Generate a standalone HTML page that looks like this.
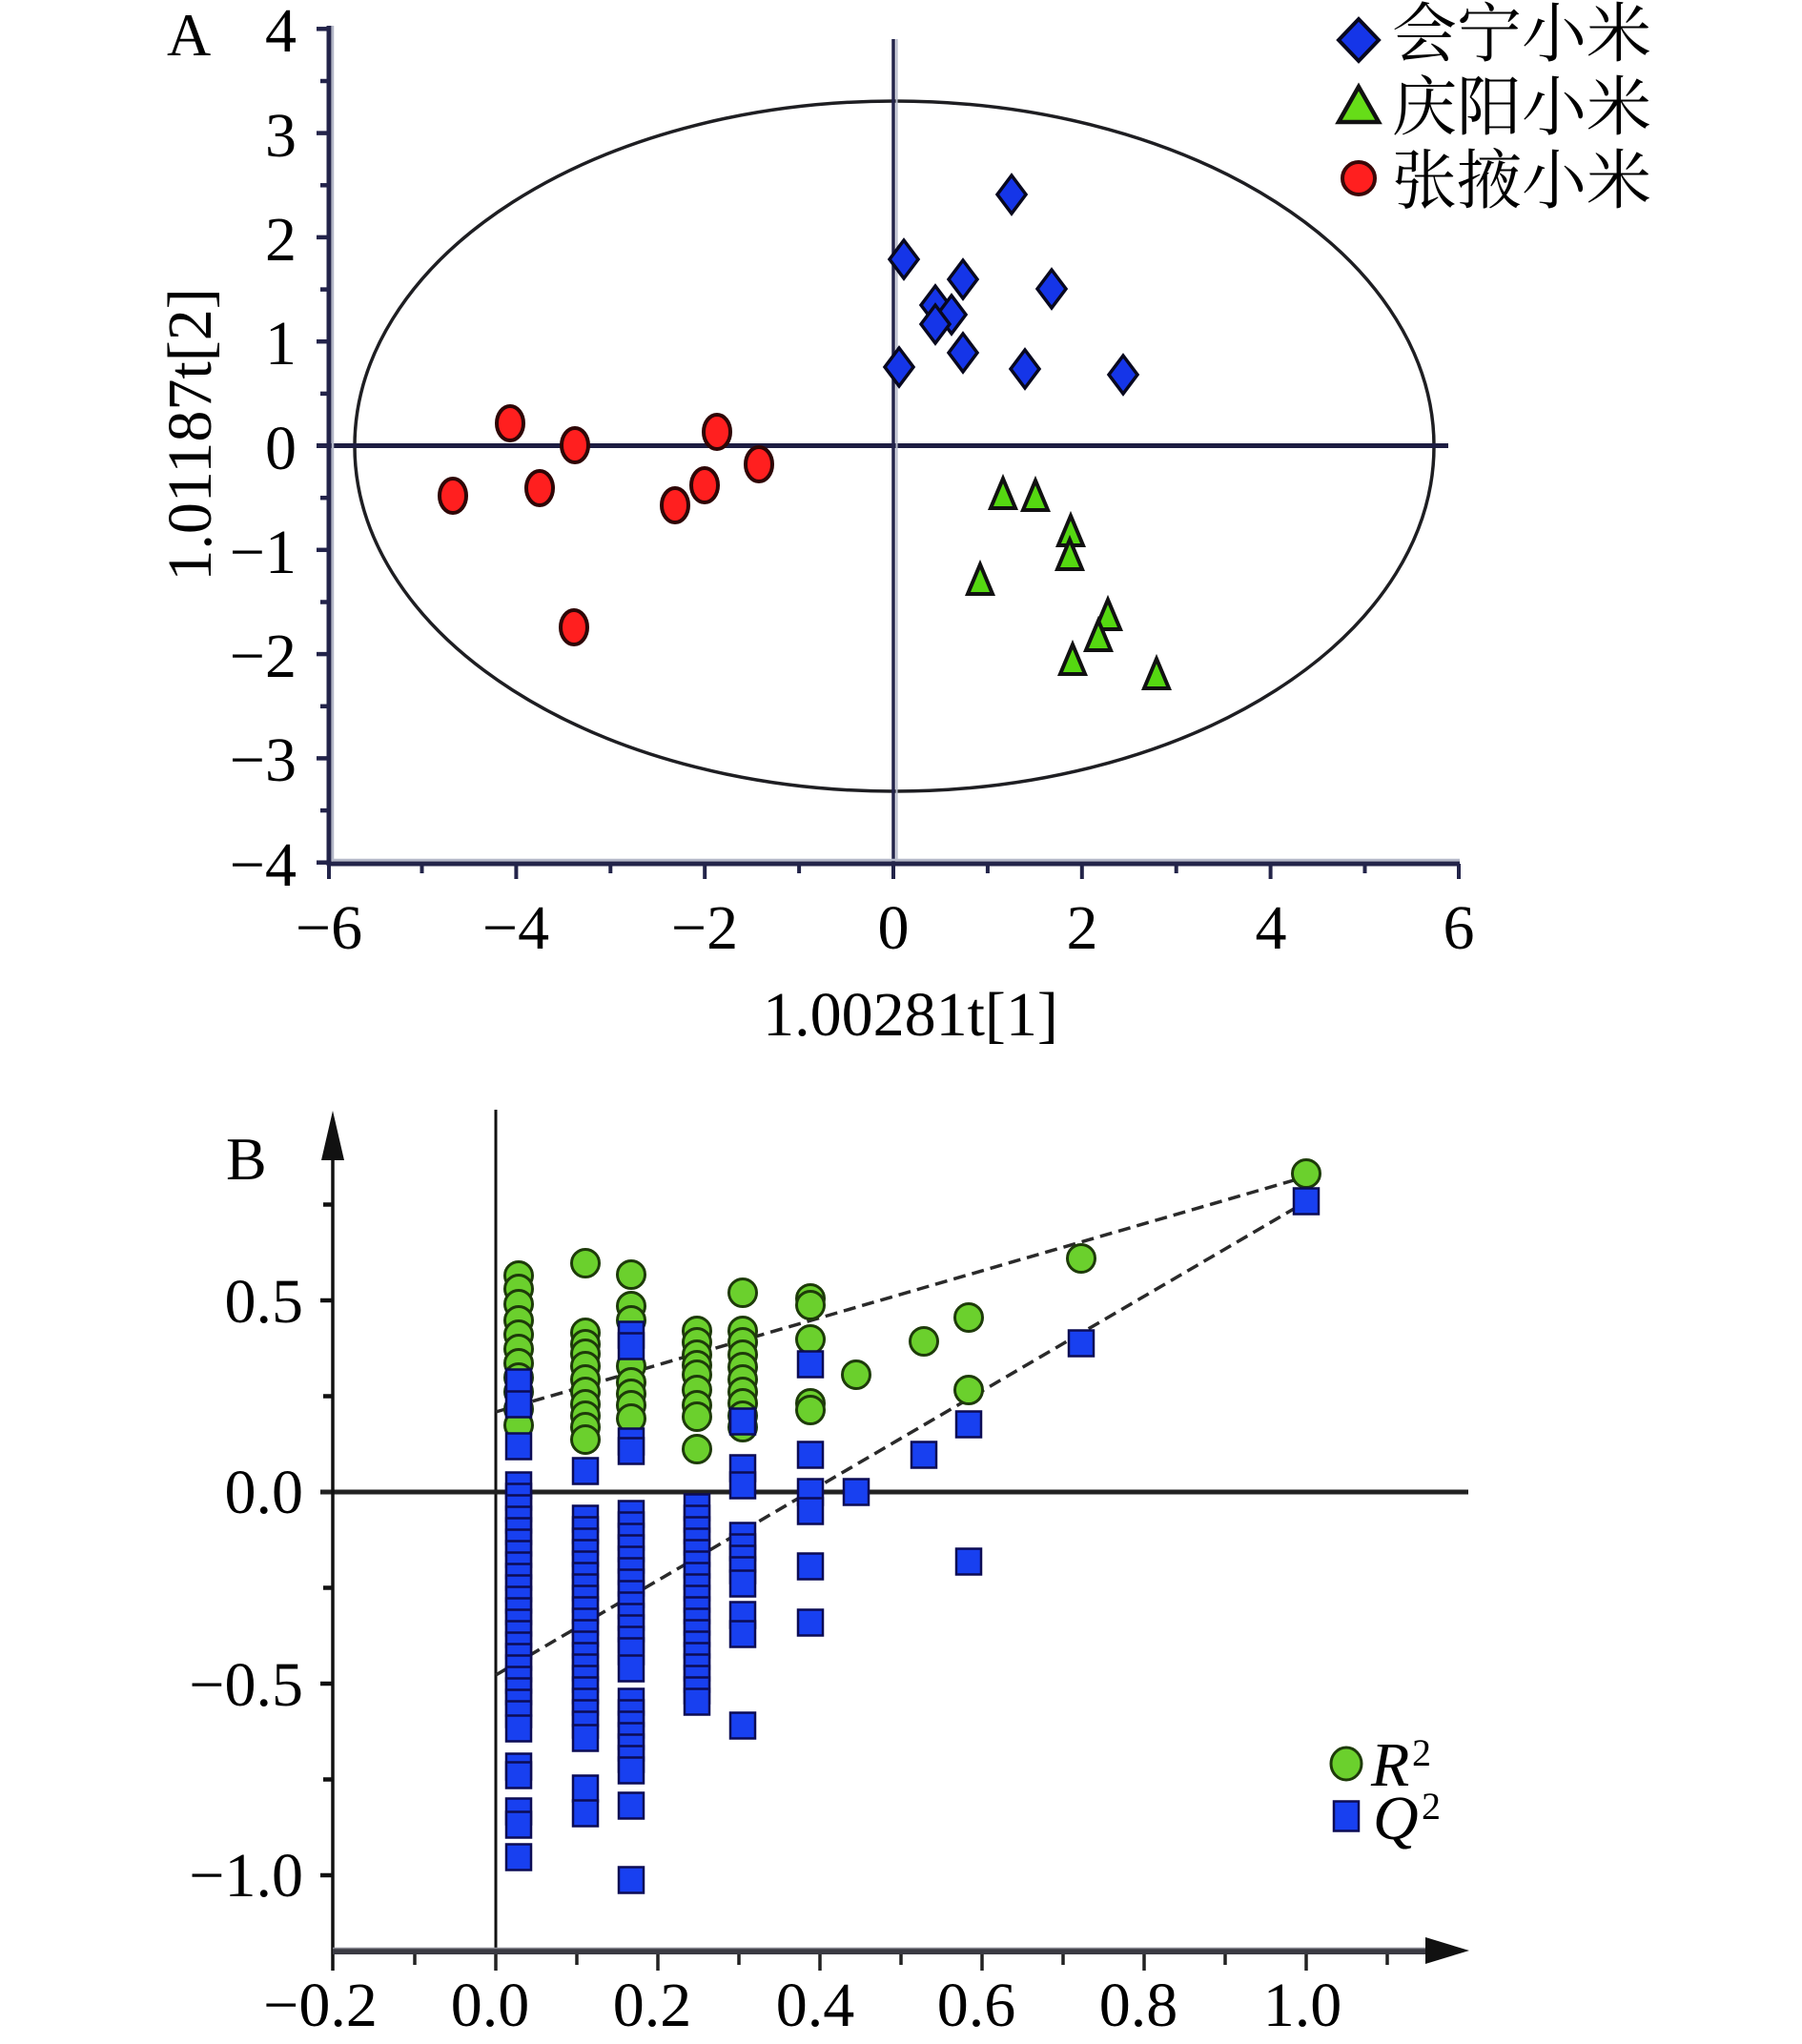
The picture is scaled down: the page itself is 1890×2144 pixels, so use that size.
<!DOCTYPE html>
<html><head><meta charset="utf-8"><style>
html,body{margin:0;padding:0;background:#fff;}
svg{display:block;}
text{font-family:"Liberation Serif","Noto Serif CJK SC",serif;fill:#000;}
.cjk{font-family:"Liberation Serif","Noto Serif CJK SC","Noto Sans CJK SC",serif;}
</style></head><body>
<svg width="1890" height="2144" viewBox="0 0 1890 2144" xmlns="http://www.w3.org/2000/svg">
<rect width="1890" height="2144" fill="#fff"/>

<!-- ================= PANEL A ================= -->
<text x="175" y="58" font-size="64">A</text>

<ellipse cx="938" cy="468" rx="566" ry="362" fill="none" stroke="#1e1e22" stroke-width="3.5"/>

<line x1="332" y1="467.5" x2="1519" y2="467.5" stroke="#1d1d42" stroke-width="5"/>
<line x1="937" y1="41" x2="937" y2="906" stroke="#23244a" stroke-width="3.5"/>
<line x1="940.5" y1="41" x2="940.5" y2="903" stroke="#b4b8c8" stroke-width="2"/>

<line x1="349" y1="27" x2="349" y2="903" stroke="#b4b8c8" stroke-width="2.5"/>
<line x1="345" y1="27" x2="345" y2="908" stroke="#23244a" stroke-width="5"/>
<line x1="349" y1="902" x2="1531" y2="902" stroke="#b4b8c8" stroke-width="2.5"/>
<line x1="343" y1="906" x2="1531" y2="906" stroke="#23244a" stroke-width="5"/>

<g stroke="#23244a" stroke-width="4.5">
<line x1="332" y1="30.3" x2="345" y2="30.3"/>
<line x1="336" y1="85" x2="345" y2="85"/>
<line x1="332" y1="139.6" x2="345" y2="139.6"/>
<line x1="336" y1="194.3" x2="345" y2="194.3"/>
<line x1="332" y1="248.9" x2="345" y2="248.9"/>
<line x1="336" y1="303.6" x2="345" y2="303.6"/>
<line x1="332" y1="358.2" x2="345" y2="358.2"/>
<line x1="336" y1="412.9" x2="345" y2="412.9"/>
<line x1="332" y1="467.5" x2="345" y2="467.5"/>
<line x1="336" y1="522.2" x2="345" y2="522.2"/>
<line x1="332" y1="576.8" x2="345" y2="576.8"/>
<line x1="336" y1="631.5" x2="345" y2="631.5"/>
<line x1="332" y1="686.1" x2="345" y2="686.1"/>
<line x1="336" y1="740.8" x2="345" y2="740.8"/>
<line x1="332" y1="795.4" x2="345" y2="795.4"/>
<line x1="336" y1="850.1" x2="345" y2="850.1"/>
<line x1="332" y1="904.7" x2="345" y2="904.7"/>
</g>
<g stroke="#23244a" stroke-width="4">
<line x1="345" y1="906" x2="345" y2="922"/>
<line x1="442.5" y1="906" x2="442.5" y2="916"/>
<line x1="541.4" y1="906" x2="541.4" y2="922"/>
<line x1="640.3" y1="906" x2="640.3" y2="916"/>
<line x1="739.2" y1="906" x2="739.2" y2="922"/>
<line x1="838.1" y1="906" x2="838.1" y2="916"/>
<line x1="937" y1="906" x2="937" y2="922"/>
<line x1="1035.9" y1="906" x2="1035.9" y2="916"/>
<line x1="1134.8" y1="906" x2="1134.8" y2="922"/>
<line x1="1233.7" y1="906" x2="1233.7" y2="916"/>
<line x1="1332.6" y1="906" x2="1332.6" y2="922"/>
<line x1="1431.5" y1="906" x2="1431.5" y2="916"/>
<line x1="1530" y1="906" x2="1530" y2="922"/>
</g>

<g font-size="66" text-anchor="end">
<text x="311" y="54">4</text>
<text x="311" y="164">3</text>
<text x="311" y="273">2</text>
<text x="311" y="382">1</text>
<text x="311" y="492">0</text>
<text x="311" y="601">−1</text>
<text x="311" y="710">−2</text>
<text x="311" y="819">−3</text>
<text x="311" y="929">−4</text>
</g>
<g font-size="66" text-anchor="middle">
<text x="345" y="995">−6</text>
<text x="541" y="995">−4</text>
<text x="739" y="995">−2</text>
<text x="937" y="995">0</text>
<text x="1135" y="995">2</text>
<text x="1333" y="995">4</text>
<text x="1530" y="995">6</text>
<text x="955" y="1086">1.00281t[1]</text>
</g>
<text font-size="66" text-anchor="middle" transform="translate(221,456) rotate(-90)">1.01187t[2]</text>

<g fill="#ff1f1f" stroke="#2e0606" stroke-width="4">
<ellipse cx="475" cy="520" rx="14" ry="18"/>
<ellipse cx="535" cy="444" rx="14" ry="18"/>
<ellipse cx="566" cy="512" rx="14" ry="18"/>
<ellipse cx="603" cy="467" rx="14" ry="18"/>
<ellipse cx="602" cy="658" rx="14" ry="18"/>
<ellipse cx="708" cy="530" rx="14" ry="18"/>
<ellipse cx="739" cy="509" rx="14" ry="18"/>
<ellipse cx="752" cy="453" rx="14" ry="18"/>
<ellipse cx="796" cy="487" rx="14" ry="18"/>
</g>

<g fill="#1535e8" stroke="#08081e" stroke-width="3.5">
<polygon points="1061,184 1076,204 1061,224 1046,204"/>
<polygon points="948,252 963,272 948,292 933,272"/>
<polygon points="1010,273 1025,293 1010,313 995,293"/>
<polygon points="1103,283 1118,303 1103,323 1088,303"/>
<polygon points="981,300 996,320 981,340 966,320"/>
<polygon points="998,310 1013,330 998,350 983,330"/>
<polygon points="981,320 996,340 981,360 966,340"/>
<polygon points="1010,350 1025,370 1010,390 995,370"/>
<polygon points="1075,367 1090,387 1075,407 1060,387"/>
<polygon points="1178,373 1193,393 1178,413 1163,393"/>
<polygon points="943,365 958,385 943,405 928,385"/>
</g>

<g fill="#55d811" stroke="#111" stroke-width="4" stroke-linejoin="miter">
<polygon points="1052,502 1039,533 1065,533"/>
<polygon points="1086,504 1073,535 1099,535"/>
<polygon points="1123,541 1110,572 1136,572"/>
<polygon points="1122,566 1109,597 1135,597"/>
<polygon points="1028,592 1015,623 1041,623"/>
<polygon points="1162,629 1149,660 1175,660"/>
<polygon points="1152,651 1139,682 1165,682"/>
<polygon points="1125,676 1112,707 1138,707"/>
<polygon points="1213,691 1200,722 1226,722"/>
</g>

<polygon points="1425,20 1446,42 1425,64 1404,42" fill="#1535e8" stroke="#08081e" stroke-width="4"/>
<polygon points="1425,91 1404,128 1446,128" fill="#66dd18" stroke="#111" stroke-width="4.5"/>
<circle cx="1425" cy="187" r="17" fill="#ff1f1f" stroke="#3b0808" stroke-width="4"/>
<g font-size="68" class="cjk">
<text x="1460" y="59" class="cjk">会宁小米</text>
<text x="1460" y="136" class="cjk">庆阳小米</text>
<text x="1460" y="213" class="cjk">张掖小米</text>
</g>

<!-- ================= PANEL B ================= -->
<text x="237" y="1237" font-size="64">B</text>

<line x1="520" y1="1164" x2="520" y2="2062" stroke="#111" stroke-width="3"/>
<line x1="336" y1="1565" x2="1540" y2="1565" stroke="#222" stroke-width="5"/>

<line x1="349" y1="1205" x2="349" y2="2067" stroke="#111" stroke-width="3.5"/>
<polygon points="349,1165 337,1217 361,1217" fill="#111"/>
<line x1="349" y1="2046.5" x2="1500" y2="2046.5" stroke="#3a3a42" stroke-width="7"/>
<line x1="349" y1="2043.5" x2="1500" y2="2043.5" stroke="#8a8a92" stroke-width="1.5"/>
<polygon points="1541,2046 1495,2032 1495,2060" fill="#111"/>

<g stroke="#111" stroke-width="4.5">
<line x1="339" y1="1263.5" x2="349" y2="1263.5"/>
<line x1="336" y1="1364" x2="349" y2="1364"/>
<line x1="339" y1="1464.5" x2="349" y2="1464.5"/>
<line x1="339" y1="1665.5" x2="349" y2="1665.5"/>
<line x1="336" y1="1766" x2="349" y2="1766"/>
<line x1="339" y1="1866.5" x2="349" y2="1866.5"/>
<line x1="336" y1="1967" x2="349" y2="1967"/>
</g>
<g stroke="#222" stroke-width="3.5">
<line x1="435" y1="2050" x2="435" y2="2061"/>
<line x1="520" y1="2050" x2="520" y2="2067"/>
<line x1="605" y1="2050" x2="605" y2="2061"/>
<line x1="690" y1="2050" x2="690" y2="2067"/>
<line x1="775" y1="2050" x2="775" y2="2061"/>
<line x1="860" y1="2050" x2="860" y2="2067"/>
<line x1="945" y1="2050" x2="945" y2="2061"/>
<line x1="1030" y1="2050" x2="1030" y2="2067"/>
<line x1="1115" y1="2050" x2="1115" y2="2061"/>
<line x1="1200" y1="2050" x2="1200" y2="2067"/>
<line x1="1285" y1="2050" x2="1285" y2="2061"/>
<line x1="1370" y1="2050" x2="1370" y2="2067"/>
<line x1="1455" y1="2050" x2="1455" y2="2061"/>
</g>

<g font-size="66" text-anchor="end">
<text x="318" y="1387">0.5</text>
<text x="318" y="1587">0.0</text>
<text x="318" y="1789">−0.5</text>
<text x="318" y="1989">−1.0</text>
</g>
<g font-size="66" text-anchor="middle">
<text x="336" y="2125">−0.2</text>
<text x="514" y="2125">0.0</text>
<text x="684" y="2125">0.2</text>
<text x="855" y="2125">0.4</text>
<text x="1024" y="2125">0.6</text>
<text x="1194" y="2125">0.8</text>
<text x="1366" y="2125">1.0</text>
</g>

<g stroke="#2a2a2a" stroke-width="3.5" stroke-dasharray="13 7" fill="none">
<line x1="520" y1="1481" x2="1357" y2="1238"/>
<line x1="520" y1="1757" x2="1357" y2="1268"/>
</g>

<g fill="#6bd02d" stroke="#1e3b0a" stroke-width="3">
<circle cx="544" cy="1338" r="14.5"/><circle cx="544" cy="1352" r="14.5"/><circle cx="544" cy="1368" r="14.5"/><circle cx="544" cy="1385" r="14.5"/><circle cx="544" cy="1400" r="14.5"/><circle cx="544" cy="1415" r="14.5"/><circle cx="544" cy="1430" r="14.5"/><circle cx="544" cy="1445" r="14.5"/><circle cx="544" cy="1460" r="14.5"/><circle cx="544" cy="1478" r="14.5"/><circle cx="544" cy="1495" r="14.5"/>
<circle cx="614" cy="1325" r="14.5"/><circle cx="614" cy="1398" r="14.5"/><circle cx="614" cy="1410" r="14.5"/><circle cx="614" cy="1420" r="14.5"/><circle cx="614" cy="1433" r="14.5"/><circle cx="614" cy="1447" r="14.5"/><circle cx="614" cy="1460" r="14.5"/><circle cx="614" cy="1473" r="14.5"/><circle cx="614" cy="1485" r="14.5"/><circle cx="614" cy="1497" r="14.5"/><circle cx="614" cy="1510" r="14.5"/>
<circle cx="662" cy="1337" r="14.5"/><circle cx="662" cy="1370" r="14.5"/><circle cx="662" cy="1385" r="14.5"/><circle cx="662" cy="1433" r="14.5"/><circle cx="662" cy="1450" r="14.5"/><circle cx="662" cy="1462" r="14.5"/><circle cx="662" cy="1474" r="14.5"/><circle cx="662" cy="1488" r="14.5"/>
<circle cx="731" cy="1396" r="14.5"/><circle cx="731" cy="1408" r="14.5"/><circle cx="731" cy="1421" r="14.5"/><circle cx="731" cy="1432" r="14.5"/><circle cx="731" cy="1442" r="14.5"/><circle cx="731" cy="1458" r="14.5"/><circle cx="731" cy="1474" r="14.5"/><circle cx="731" cy="1486" r="14.5"/><circle cx="731" cy="1520" r="14.5"/>
<circle cx="779" cy="1356" r="14.5"/><circle cx="779" cy="1396" r="14.5"/><circle cx="779" cy="1408" r="14.5"/><circle cx="779" cy="1421" r="14.5"/><circle cx="779" cy="1434" r="14.5"/><circle cx="779" cy="1447" r="14.5"/><circle cx="779" cy="1460" r="14.5"/><circle cx="779" cy="1472" r="14.5"/><circle cx="779" cy="1485" r="14.5"/><circle cx="779" cy="1497" r="14.5"/>
<circle cx="850" cy="1362" r="14.5"/><circle cx="850" cy="1369" r="14.5"/><circle cx="850" cy="1405" r="14.5"/><circle cx="850" cy="1472" r="14.5"/><circle cx="850" cy="1479" r="14.5"/>
<circle cx="898" cy="1442" r="14.5"/>
<circle cx="969" cy="1407" r="14.5"/>
<circle cx="1016" cy="1382" r="14.5"/><circle cx="1016" cy="1458" r="14.5"/>
<circle cx="1134" cy="1320" r="14.5"/>
<circle cx="1370" cy="1231" r="14.5"/>
</g>

<g fill="#1840f0" stroke="#0c0c55" stroke-width="2.5">
<rect x="531" y="1436.5" width="26" height="27"/><rect x="531" y="1459.5" width="26" height="27"/><rect x="531" y="1503.5" width="26" height="27"/>
<rect x="531" y="1544.5" width="26" height="27"/><rect x="531" y="1556.5" width="26" height="27"/><rect x="531" y="1568.5" width="26" height="27"/><rect x="531" y="1580.5" width="26" height="27"/><rect x="531" y="1592.5" width="26" height="27"/><rect x="531" y="1604.5" width="26" height="27"/><rect x="531" y="1616.5" width="26" height="27"/><rect x="531" y="1628.5" width="26" height="27"/><rect x="531" y="1640.5" width="26" height="27"/><rect x="531" y="1652.5" width="26" height="27"/><rect x="531" y="1664.5" width="26" height="27"/><rect x="531" y="1676.5" width="26" height="27"/><rect x="531" y="1688.5" width="26" height="27"/><rect x="531" y="1700.5" width="26" height="27"/><rect x="531" y="1712.5" width="26" height="27"/><rect x="531" y="1724.5" width="26" height="27"/><rect x="531" y="1736.5" width="26" height="27"/><rect x="531" y="1748.5" width="26" height="27"/><rect x="531" y="1760.5" width="26" height="27"/><rect x="531" y="1772.5" width="26" height="27"/><rect x="531" y="1784.5" width="26" height="27"/><rect x="531" y="1799.5" width="26" height="27"/>
<rect x="531" y="1839.5" width="26" height="27"/><rect x="531" y="1848.5" width="26" height="27"/><rect x="531" y="1886.5" width="26" height="27"/><rect x="531" y="1900.5" width="26" height="27"/><rect x="531" y="1934.5" width="26" height="27"/>

<rect x="601" y="1529.5" width="26" height="27"/>
<rect x="601" y="1579.5" width="26" height="27"/><rect x="601" y="1591.5" width="26" height="27"/><rect x="601" y="1603.5" width="26" height="27"/><rect x="601" y="1615.5" width="26" height="27"/><rect x="601" y="1627.5" width="26" height="27"/><rect x="601" y="1639.5" width="26" height="27"/><rect x="601" y="1651.5" width="26" height="27"/><rect x="601" y="1663.5" width="26" height="27"/><rect x="601" y="1675.5" width="26" height="27"/><rect x="601" y="1687.5" width="26" height="27"/><rect x="601" y="1699.5" width="26" height="27"/><rect x="601" y="1711.5" width="26" height="27"/><rect x="601" y="1723.5" width="26" height="27"/><rect x="601" y="1735.5" width="26" height="27"/><rect x="601" y="1747.5" width="26" height="27"/><rect x="601" y="1759.5" width="26" height="27"/><rect x="601" y="1771.5" width="26" height="27"/><rect x="601" y="1783.5" width="26" height="27"/><rect x="601" y="1795.5" width="26" height="27"/><rect x="601" y="1809.5" width="26" height="27"/>
<rect x="601" y="1862.5" width="26" height="27"/><rect x="601" y="1888.5" width="26" height="27"/>

<rect x="649" y="1386.5" width="26" height="27"/><rect x="649" y="1398.5" width="26" height="27"/><rect x="649" y="1498.5" width="26" height="27"/><rect x="649" y="1508.5" width="26" height="27"/>
<rect x="649" y="1574.5" width="26" height="27"/><rect x="649" y="1586.5" width="26" height="27"/><rect x="649" y="1598.5" width="26" height="27"/><rect x="649" y="1610.5" width="26" height="27"/><rect x="649" y="1622.5" width="26" height="27"/><rect x="649" y="1634.5" width="26" height="27"/><rect x="649" y="1646.5" width="26" height="27"/><rect x="649" y="1658.5" width="26" height="27"/><rect x="649" y="1670.5" width="26" height="27"/><rect x="649" y="1682.5" width="26" height="27"/><rect x="649" y="1694.5" width="26" height="27"/><rect x="649" y="1706.5" width="26" height="27"/><rect x="649" y="1718.5" width="26" height="27"/><rect x="649" y="1736.5" width="26" height="27"/>
<rect x="649" y="1771.5" width="26" height="27"/><rect x="649" y="1783.5" width="26" height="27"/><rect x="649" y="1795.5" width="26" height="27"/><rect x="649" y="1807.5" width="26" height="27"/><rect x="649" y="1819.5" width="26" height="27"/><rect x="649" y="1831.5" width="26" height="27"/><rect x="649" y="1843.5" width="26" height="27"/>
<rect x="649" y="1880.5" width="26" height="27"/><rect x="649" y="1958.5" width="26" height="27"/>

<rect x="718" y="1567.5" width="26" height="27"/><rect x="718" y="1579.5" width="26" height="27"/><rect x="718" y="1591.5" width="26" height="27"/><rect x="718" y="1603.5" width="26" height="27"/><rect x="718" y="1615.5" width="26" height="27"/><rect x="718" y="1627.5" width="26" height="27"/><rect x="718" y="1639.5" width="26" height="27"/><rect x="718" y="1651.5" width="26" height="27"/><rect x="718" y="1663.5" width="26" height="27"/><rect x="718" y="1675.5" width="26" height="27"/><rect x="718" y="1687.5" width="26" height="27"/><rect x="718" y="1699.5" width="26" height="27"/><rect x="718" y="1711.5" width="26" height="27"/><rect x="718" y="1723.5" width="26" height="27"/><rect x="718" y="1735.5" width="26" height="27"/><rect x="718" y="1747.5" width="26" height="27"/><rect x="718" y="1759.5" width="26" height="27"/><rect x="718" y="1771.5" width="26" height="27"/>

<rect x="766" y="1477.5" width="26" height="27"/><rect x="766" y="1526.5" width="26" height="27"/><rect x="766" y="1544.5" width="26" height="27"/>
<rect x="766" y="1597.5" width="26" height="27"/><rect x="766" y="1609.5" width="26" height="27"/><rect x="766" y="1621.5" width="26" height="27"/><rect x="766" y="1633.5" width="26" height="27"/><rect x="766" y="1647.5" width="26" height="27"/>
<rect x="766" y="1680.5" width="26" height="27"/><rect x="766" y="1700.5" width="26" height="27"/><rect x="766" y="1796.5" width="26" height="27"/>

<rect x="837" y="1417.5" width="26" height="27"/><rect x="837" y="1512.5" width="26" height="27"/><rect x="837" y="1551.5" width="26" height="27"/><rect x="837" y="1571.5" width="26" height="27"/><rect x="837" y="1629.5" width="26" height="27"/><rect x="837" y="1688.5" width="26" height="27"/>
<rect x="885" y="1551.5" width="26" height="27"/>
<rect x="956" y="1512.5" width="26" height="27"/>
<rect x="1003" y="1480.5" width="26" height="27"/><rect x="1003" y="1624.5" width="26" height="27"/>
<rect x="1121" y="1395.5" width="26" height="27"/>
<rect x="1357" y="1246.5" width="26" height="27"/>
</g>

<ellipse cx="1412" cy="1850" rx="16" ry="17" fill="#6bd02d" stroke="#1e3b0a" stroke-width="3"/>
<rect x="1399" y="1889.5" width="26" height="31" fill="#1840f0" stroke="#0c0c55" stroke-width="2.5"/>
<text x="1438" y="1873" font-size="66" font-style="italic">R</text>
<text x="1481" y="1852" font-size="40">2</text>
<text x="1440" y="1929" font-size="66" font-style="italic">Q</text>
<text x="1491" y="1908" font-size="40">2</text>
</svg>
</body></html>
